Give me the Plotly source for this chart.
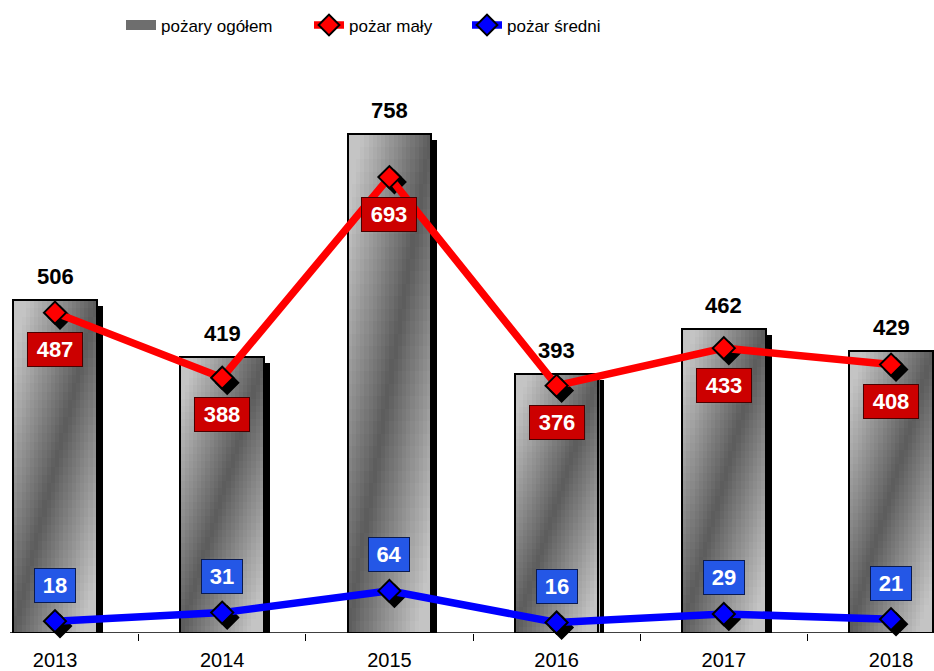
import plotly.graph_objects as go

# ---- data ----
years = ["2013", "2014", "2015", "2016", "2017", "2018"]
totals = [506, 419, 758, 393, 462, 429]      # pożary ogółem
small = [487, 388, 693, 376, 433, 408]       # pożar mały
medium = [18, 31, 64, 16, 29, 21]            # pożar średni

names = ["pożary ogółem", "pożar mały", "pożar średni"]

FONT = "Liberation Sans, Arial, sans-serif"
x = list(range(len(years)))

# ---- geometry / style helpers (pixels -> data units) ----
W, H = 934, 671
ML, MR, MT, MB = 0, 0, 62, 33
XR = [-0.329, 5.257]
YR = [0, 868]
PH = H - MT - MB
px_x = (XR[1] - XR[0]) / (W - ML - MR)
px_y = (YR[1] - YR[0]) / PH
BW = 0.50

fig = go.Figure()

# bar shadows
fig.add_trace(go.Bar(
    x=x, y=[t - 6 * px_y for t in totals], width=BW, offset=-BW / 2 + 6 * px_x,
    marker=dict(color="black", line=dict(width=0)), showlegend=False, hoverinfo="skip"))

# gradient fill (diagonal metallic look) built from small cells in one trace
NU, NV = 20, 40
dark, light = 0x5c, 0xc4
cx, cy, cb, cw, co, cc = [], [], [], [], [], []
for k, tot in zip(x, totals):
    for i in range(NU):
        for j in range(NV):
            u = (i + 0.5) / NU
            v = (j + 0.5) / NV
            t = min(1.0, abs(u - v) * 1.2)
            g = int(dark + (light - dark) * t)
            cx.append(k)
            cb.append(tot * j / NV)
            cy.append(tot / NV * 1.08)
            cw.append(BW / NU * 1.3)
            co.append(-BW / 2 + i * BW / NU)
            cc.append(f"rgb({g},{g},{g})")
fig.add_trace(go.Bar(
    x=cx, y=cy, base=cb, width=cw, offset=co,
    marker=dict(color=cc, line=dict(width=0)),
    showlegend=False, hoverinfo="skip"))

# bar outlines
fig.add_trace(go.Bar(
    x=x, y=totals, width=BW, offset=-BW / 2,
    marker=dict(color="rgba(0,0,0,0)", line=dict(color="black", width=2)),
    showlegend=False, hoverinfo="skip"))

# legend entry for bars
fig.add_trace(go.Scatter(
    x=[None], y=[None], mode="lines", name=names[0], legend="legend",
    line=dict(color="#6e6e6e", width=10)))

# marker shadows + lines
for vals, color, nm, lg in [(small, "#ff0000", names[1], "legend2"),
                            (medium, "#0000ff", names[2], "legend3")]:
    fig.add_trace(go.Scatter(
        x=[xi + 5 * px_x for xi in x], y=[v - 5 * px_y for v in vals], mode="markers",
        marker=dict(symbol="diamond", size=17, color="black", line=dict(color="black", width=2)),
        showlegend=False, hoverinfo="skip", cliponaxis=False))
    fig.add_trace(go.Scatter(
        x=x, y=vals, mode="lines+markers", name=nm, legend=lg,
        line=dict(color=color, width=7.5),
        marker=dict(symbol="diamond", size=17, color=color, line=dict(color="black", width=2)),
        cliponaxis=False))

annotations = []
for xi, t in zip(x, totals):
    annotations.append(dict(
        x=xi, y=t, xref="x", yref="y", text=f"<b>{t}</b>", showarrow=False,
        yanchor="bottom", yshift=9, font=dict(family=FONT, size=22, color="black")))
for xi, v in zip(x, small):
    annotations.append(dict(
        x=xi, y=v, xref="x", yref="y", text=f"<b>{v}</b>", showarrow=False,
        yanchor="middle", yshift=-37, width=50, height=29, borderpad=2,
        bgcolor="#cc0000", bordercolor="#4a0000", borderwidth=1,
        font=dict(family=FONT, size=22, color="white")))
for xi, v in zip(x, medium):
    annotations.append(dict(
        x=xi, y=v, xref="x", yref="y", text=f"<b>{v}</b>", showarrow=False,
        yanchor="middle", yshift=36, width=36, height=29, borderpad=2,
        bgcolor="#2457e6", bordercolor="#0a1a50", borderwidth=1,
        font=dict(family=FONT, size=22, color="white")))

leg_common = dict(orientation="h", xanchor="left", y=1 + 55 / PH, yanchor="top",
                  font=dict(family=FONT, size=17, color="black"), bgcolor="rgba(0,0,0,0)",
                  itemclick=False, itemdoubleclick=False)

fig.update_layout(
    width=W, height=H,
    margin=dict(l=ML, r=MR, t=MT, b=MB),
    paper_bgcolor="white", plot_bgcolor="white",
    barmode="overlay", bargap=0,
    font=dict(family=FONT, color="black"),
    showlegend=True,
    legend=dict(x=121 / W, **leg_common),
    legend2=dict(x=309 / W, **leg_common),
    legend3=dict(x=467 / W, **leg_common),
    annotations=annotations,
    shapes=[dict(type="line", xref="paper", yref="y", x0=10 / W, x1=1, y0=0, y1=0,
                 line=dict(color="black", width=1.5), layer="above")],
    xaxis=dict(range=XR, tickmode="array", tickvals=x, ticktext=years, ticks="",
               showgrid=False, zeroline=False, showline=False, ticklabelstandoff=13,
               tickfont=dict(family=FONT, size=20, color="black"),
               minor=dict(tickmode="array", tickvals=[i + 0.5 for i in x[:-1]], ticks="outside",
                          ticklen=7, tickcolor="black", tickwidth=1, showgrid=False)),
    yaxis=dict(range=YR, visible=False, showgrid=False, zeroline=False),
)

fig.write_html("out.html", config={"displayModeBar": False},
               post_script="document.body.style.margin='0';document.body.style.overflow='hidden';")
